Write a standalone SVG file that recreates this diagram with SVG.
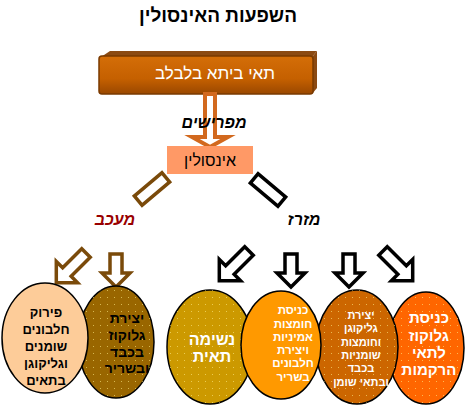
<svg xmlns="http://www.w3.org/2000/svg" width="469" height="408" viewBox="0 0 469 408">
<style>
.t{font-family:"Liberation Sans","DejaVu Sans",sans-serif;text-anchor:middle}
.eb{font-weight:bold}
.el{stroke:#000;stroke-width:1.5}
.hb{fill:#fff;stroke:#000;stroke-width:3.5;stroke-linejoin:miter}
.hbr{fill:#fff;stroke:#7a4a0a;stroke-width:3.5;stroke-linejoin:miter}
</style>
<defs>
<path id="arrDown" d="M-6,0 H6 V19 H14 L0,33 L-14,19 H-6 Z"/>
<path id="arrDiag" d="M-6,0 H6 V27 H15 L0,42 L-15,27 H-6 Z"/>
<pattern id="dots" width="7" height="7" patternUnits="userSpaceOnUse">
<rect x="2" y="3" width="1" height="1" fill="#ffee88" opacity="0.6"/>
</pattern>
<linearGradient id="boxg" x1="0" y1="0" x2="0" y2="1">
<stop offset="0" stop-color="#d46e08"/>
<stop offset="0.6" stop-color="#c56000"/>
<stop offset="1" stop-color="#9a4800"/>
</linearGradient>
</defs>
<rect width="469" height="408" fill="#fff"/>
<text class="t" x="218" y="22" font-size="19" font-weight="bold" fill="#000">השפעות האינסולין</text>

<g id="beta">
<polygon points="101,57 110,51 317,51 312,57" fill="#8b4a12"/>
<polygon points="312,57 317,51 317,88 312,94" fill="#8b4a12"/>
<rect x="99" y="56" width="214" height="38" rx="3" fill="url(#boxg)" stroke="#7a3a00" stroke-width="1.5"/>
<text class="t" x="215" y="79" font-size="17" fill="#fff">תאי ביתא בלבלב</text>
</g>

<g id="connectors">
<polygon points="205,94 215,94 215,137 228,137 210,147 192,137 205,137" fill="#fff" stroke="#d2691e" stroke-width="4"/>
<rect x="-6" y="-18" width="12" height="36" class="hbr" transform="translate(152,189) rotate(50)"/>
<rect x="-6" y="-18" width="12" height="36" class="hb" transform="translate(268,190) rotate(-50)"/>
<use href="#arrDiag" class="hbr" transform="translate(86,253) rotate(45)"/>
<use href="#arrDown" class="hbr" transform="translate(116,254)"/>
<use href="#arrDiag" class="hb" transform="translate(249,251) rotate(45)"/>
<use href="#arrDown" class="hb" transform="translate(291,254)"/>
<use href="#arrDown" class="hb" transform="translate(349,254)"/>
<use href="#arrDiag" class="hb" transform="translate(383,251) rotate(-45)"/>
</g>

<g id="label-secrete">
<text class="t" x="214" y="128" font-size="16" font-weight="bold" font-style="italic" fill="#000">מפרישים</text>
</g>

<g id="insulin">
<rect x="167" y="146" width="86" height="28" fill="#ff9966"/>
<text class="t" x="210" y="166" font-size="16" fill="#000">אינסולין</text>
</g>

<g id="label-inhibit">
<text class="t" x="115" y="225" font-size="16" font-weight="bold" font-style="italic" fill="#990000">מעכב</text>
</g>
<g id="label-accel">
<text class="t" x="304" y="225" font-size="16" font-weight="bold" font-style="italic" fill="#000">מזרז</text>
</g>

<g id="glucose-liver">
<ellipse cx="116" cy="342" rx="38" ry="56" fill="#996600" class="el"/>
<ellipse cx="116" cy="342" rx="38" ry="56" fill="url(#dots)"/>
<text class="t eb" font-size="14" fill="#000"><tspan x="127" y="323">יצירת</tspan><tspan x="127" y="340">גלוקוז</tspan><tspan x="127" y="357">בכבד</tspan><tspan x="127" y="373">ובשריר</tspan></text>
</g>
<g id="breakdown">
<ellipse cx="45" cy="338" rx="43" ry="55" fill="#fdcc99" class="el"/>
<text class="t eb" font-size="13" fill="#000"><tspan x="46" y="317">פירוק</tspan><tspan x="46" y="334">חלבונים</tspan><tspan x="46" y="351">שומנים</tspan><tspan x="46" y="368">וגליקוגן</tspan><tspan x="46" y="385">בתאים</tspan></text>
</g>

<g id="tissue">
<ellipse cx="426" cy="348" rx="38" ry="56" fill="#ff6600" class="el"/>
<ellipse cx="426" cy="348" rx="38" ry="56" fill="url(#dots)"/>
<text class="t eb" font-size="15" fill="#fff"><tspan x="429" y="323">כניסת</tspan><tspan x="429" y="341">גלוקוז</tspan><tspan x="429" y="358">לתאי</tspan><tspan x="429" y="375">הרקמות</tspan></text>
</g>
<g id="glycogen">
<ellipse cx="357" cy="347" rx="41" ry="57" fill="#cc6600" class="el"/>
<ellipse cx="357" cy="347" rx="41" ry="57" fill="url(#dots)"/>
<text class="t eb" font-size="11" fill="#fff"><tspan x="361" y="319">יצירת</tspan><tspan x="361" y="332">גליקוגן</tspan><tspan x="361" y="346">וחומצות</tspan><tspan x="361" y="359">שומניות</tspan><tspan x="361" y="372">בכבד</tspan><tspan x="361" y="386">ובתאי שומן</tspan></text>
</g>
<g id="respiration">
<ellipse cx="210" cy="347" rx="43" ry="57" fill="#cc9900" class="el"/>
<ellipse cx="210" cy="347" rx="43" ry="57" fill="url(#dots)"/>
<text class="t eb" font-size="16" fill="#fff"><tspan x="212" y="345">נשימה</tspan><tspan x="212" y="362">תאית</tspan></text>
</g>
<g id="amino">
<ellipse cx="281" cy="345" rx="40" ry="54" fill="#ff9900" class="el"/>
<text class="t eb" font-size="11.5" fill="#fff"><tspan x="293" y="314">כניסת</tspan><tspan x="293" y="328">חומצות</tspan><tspan x="293" y="341">אמיניות</tspan><tspan x="293" y="354">ויצירת</tspan><tspan x="293" y="367">חלבונים</tspan><tspan x="293" y="381">בשריר</tspan></text>
</g>
</svg>
